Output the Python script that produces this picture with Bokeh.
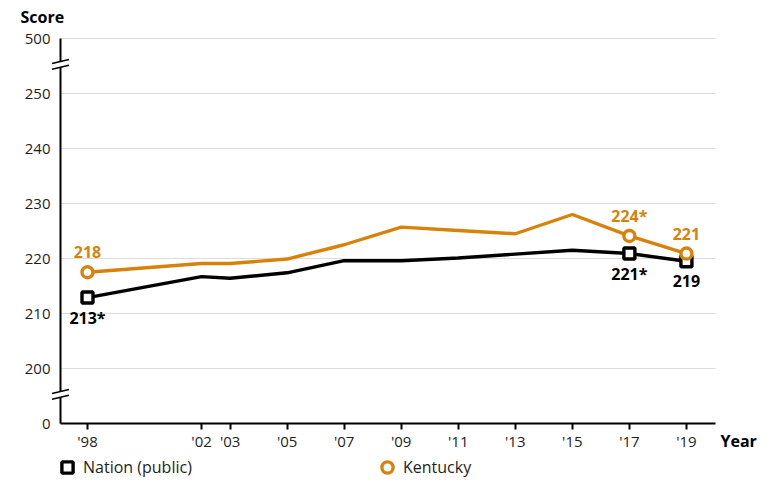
from bokeh.plotting import figure
from bokeh.models import (Range1d, FixedTicker, Label, Legend, LegendItem, PolyAnnotation,
                          Arrow, ColumnDataSource)
from bokeh.core.properties import value
from bokeh.embed import file_html
from bokeh.resources import INLINE

# ---- data ----
years = [1998, 2002, 2003, 2005, 2007, 2009, 2011, 2013, 2015, 2017, 2019]
nation = [212.9, 216.7, 216.4, 217.4, 219.6, 219.6, 220.1, 220.8, 221.5, 220.9, 219.5]
kentucky = [217.5, 219.1, 219.1, 219.9, 222.5, 225.7, 225.1, 224.5, 228.0, 224.1, 220.9]
marker_years = [1998, 2017, 2019]
nation_marks = [212.9, 220.9, 219.5]
kentucky_marks = [217.5, 224.1, 220.9]
nation_labels = ["213*", "221*", "219"]
kentucky_labels = ["218", "224*", "221"]
tick_years = [1998, 2002, 2003, 2005, 2007, 2009, 2011, 2013, 2015, 2017, 2019]
tick_year_labels = ["'98", "'02", "'03", "'05", "'07", "'09", "'11", "'13", "'15", "'17", "'19"]
# the score axis is broken: 0 is drawn at 190 and 500 at 260
y_ticks = [190, 200, 210, 220, 230, 240, 250, 260]
y_tick_labels = ["0", "200", "210", "220", "230", "240", "250", "500"]
grid_values = [200, 210, 220, 230, 240, 250, 260]
break_positions = [255.3, 195.3]

ORANGE = "#d9820b"
FONT = "Open Sans"

# ---- layout (pixel geometry of the canvas) ----
W, H = 772, 483
PX_YEAR = 28.52          # px per year
PX_UNIT = 5.5            # px per score unit
X0_PX, X0_YEAR = 87, 1998
Y0_PX, Y0_VAL = 423, 190


def xd(px):
    return X0_YEAR + (px - X0_PX) / PX_YEAR


def yd(py):
    return Y0_VAL + (Y0_PX - py) / PX_UNIT


x_left, x_right = xd(60), xd(715)

p = figure(width=W, height=H, output_backend="svg", toolbar_location=None,
           x_range=Range1d(xd(0), xd(W)), y_range=Range1d(yd(H), yd(0)),
           min_border=0, min_border_left=0, min_border_right=0,
           min_border_top=0, min_border_bottom=0)
p.outline_line_color = None
p.background_fill_color = "white"
p.xgrid.grid_line_color = None
p.ygrid.grid_line_color = None

# axes drawn at fixed data locations
xa, ya = p.xaxis[0], p.yaxis[0]
xa.fixed_location = Y0_VAL
xa.bounds = (x_left, x_right)
xa.ticker = FixedTicker(ticks=tick_years)
xa.major_label_overrides = dict(zip(tick_years, tick_year_labels))
ya.fixed_location = x_left
ya.bounds = (190, 260)
ya.ticker = FixedTicker(ticks=y_ticks)
ya.major_label_overrides = dict(zip(y_ticks, y_tick_labels))
for ax in (xa, ya):
    ax.axis_line_color = "black"
    ax.axis_line_width = 2
    ax.major_label_text_font = FONT
    ax.major_label_text_font_size = "15px"
    ax.major_label_text_color = "#1e1e1e"
    ax.minor_tick_line_color = None
xa.major_tick_out = 6
xa.major_tick_in = 0
xa.major_tick_line_width = 2
xa.major_label_standoff = 1
ya.major_tick_out = 0
ya.major_tick_in = 0
ya.major_tick_line_color = None
ya.major_label_standoff = 10

# grid lines
p.segment(x0=[x_left] * len(grid_values), y0=grid_values,
          x1=[x_right] * len(grid_values), y1=grid_values,
          line_color="#dddddd", line_width=1)

# lines
p.line(years, nation, line_color="black", line_width=3.4)
p.line(years, kentucky, line_color=ORANGE, line_width=3.4)
r_nat = p.scatter(marker_years, nation_marks, marker="square", size=11,
                  line_color="black", line_width=3.4, fill_color="white")
r_ky = p.scatter(marker_years, kentucky_marks, marker="circle", size=11,
                 line_color=ORANGE, line_width=3.4, fill_color="white")

# data labels
src_n = ColumnDataSource(dict(x=marker_years, y=nation_marks, t=nation_labels))
src_k = ColumnDataSource(dict(x=marker_years, y=kentucky_marks, t=kentucky_labels))
p.text("x", "y", text="t", source=src_n, y_offset=20, text_align="center",
       text_baseline="middle", text_font=value(FONT), text_font_size="16px",
       text_font_style="bold", text_color="black")
p.text("x", "y", text="t", source=src_k, y_offset=-20, text_align="center",
       text_baseline="middle", text_font=value(FONT), text_font_size="16px",
       text_font_style="bold", text_color=ORANGE)

# axis break marks
dx = 8.5 / PX_YEAR
dy = 1.0 / PX_UNIT
for yb in break_positions:
    p.add_layout(PolyAnnotation(xs=[x_left - dx, x_left + dx, x_left + dx, x_left - dx],
                                ys=[yb - 4.8 * dy, yb - 0.8 * dy, yb + 4.8 * dy, yb + 0.8 * dy],
                                fill_color="white", fill_alpha=1, line_color=None,
                                xs_units="data", ys_units="data"))
    for off in (-2.8, 2.8):
        p.add_layout(Arrow(x_start=x_left - dx, y_start=yb + (off - 2) * dy,
                           x_end=x_left + dx, y_end=yb + (off + 2) * dy,
                           start=None, end=None, line_color="black", line_width=1.5))

# axis titles
p.add_layout(Label(x=xd(20), y=yd(16), text="Score",
                   text_font=FONT, text_font_size="16px", text_font_style="bold",
                   text_baseline="middle", text_align="left", text_color="black"))
p.add_layout(Label(x=xd(720), y=yd(440), text="Year",
                   text_font=FONT, text_font_size="16px", text_font_style="bold",
                   text_baseline="middle", text_align="left", text_color="black"))

# legend
legend = Legend(items=[LegendItem(label="Nation (public)", renderers=[r_nat]),
                       LegendItem(label="Kentucky", renderers=[r_ky])],
                orientation="horizontal", location=(53, 2),
                glyph_width=28, glyph_height=28, label_standoff=2,
                label_width=283, spacing=7, padding=0, margin=0,
                border_line_color=None, background_fill_alpha=0,
                label_text_font=FONT, label_text_font_size="16px",
                label_text_color="#1e1e1e")
p.add_layout(legend, "center")

open("out.html", "w").write(file_html(p, INLINE))
